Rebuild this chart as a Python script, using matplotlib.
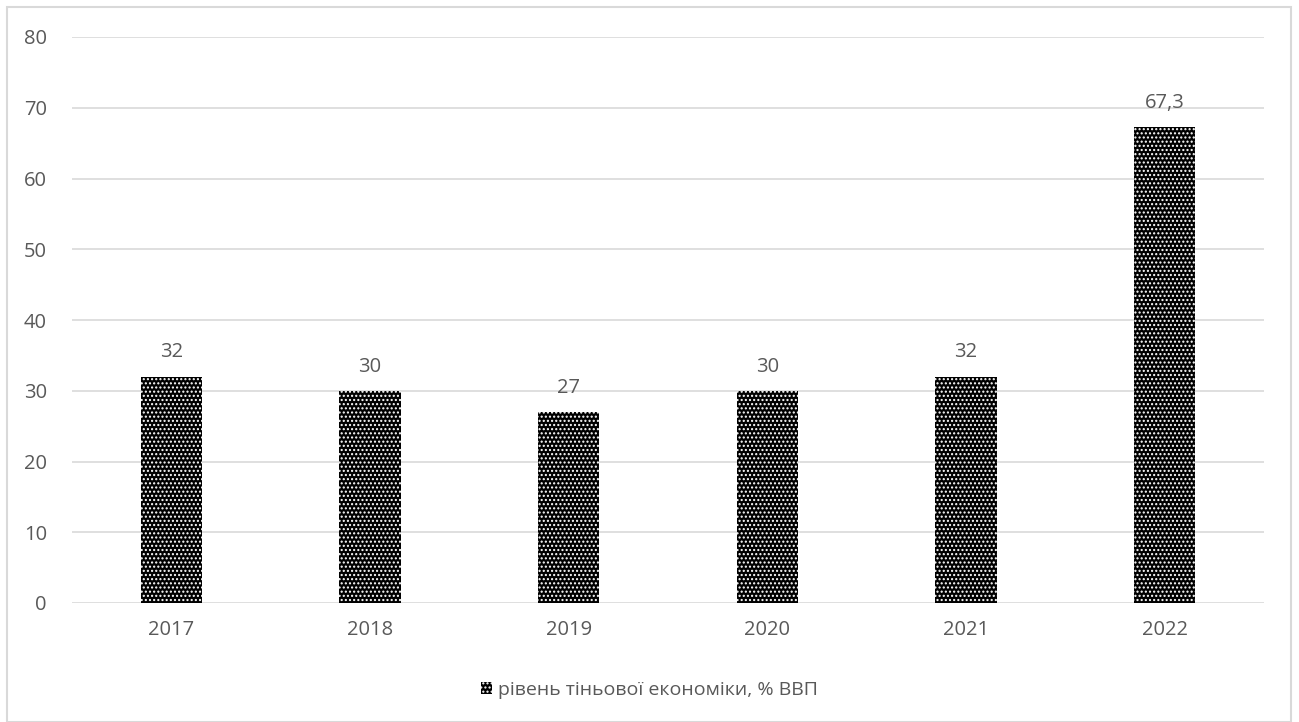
import matplotlib.pyplot as plt
from matplotlib.patches import Rectangle

# Рівень тіньової економіки, % ВВП
years = ['2017', '2018', '2019', '2020', '2021', '2022']
values = [32, 30, 27, 30, 32, 67.3]
labels = ['32', '30', '27', '30', '32', '67,3']

plt.rcParams['font.family'] = ['Open Sans', 'DejaVu Sans']
plt.rcParams['hatch.linewidth'] = 1.0
grey = '#595959'

fig = plt.figure(figsize=(12.99, 7.22), dpi=100)
ax = fig.add_axes([72/1299, 1 - 603/722, (1264-72)/1299, (603-37)/722])

x = range(len(years))
bars = ax.bar(x, values, width=0.31, color='black', edgecolor='white',
              linewidth=0, hatch='....', label='рівень тіньової економіки, % ВВП')

for xi, v, t in zip(x, values, labels):
    ax.text(xi, v + 2.0, t, ha='center', va='bottom', fontsize=14.5, color=grey)

ax.set_ylim(0, 80)
ax.set_xlim(-0.5, len(years) - 0.5)
ax.set_yticks(range(0, 81, 10))
ax.set_xticks(list(x))
ax.set_xticklabels(years)
ax.tick_params(length=0, labelsize=14.5, labelcolor=grey)
ax.tick_params(axis='y', pad=18)
ax.tick_params(axis='x', pad=12)
ax.grid(axis='y', color='#d9d9d9', linewidth=1.2)
ax.set_axisbelow(True)
for s in ax.spines.values():
    s.set_visible(False)

leg = fig.legend(handles=[bars], loc='center', bbox_to_anchor=(0.5, 1 - 690/722),
                 frameon=False, fontsize=14, handlelength=0.6, handleheight=0.6,
                 handletextpad=0.3)
for t in leg.get_texts():
    t.set_color(grey)

fig.patches.append(Rectangle((7/1299, 0), 1284/1299, 1 - 7/722, transform=fig.transFigure,
                             fill=False, edgecolor='#d9d9d9', linewidth=1.5))

fig.savefig('out.png', dpi=100)
